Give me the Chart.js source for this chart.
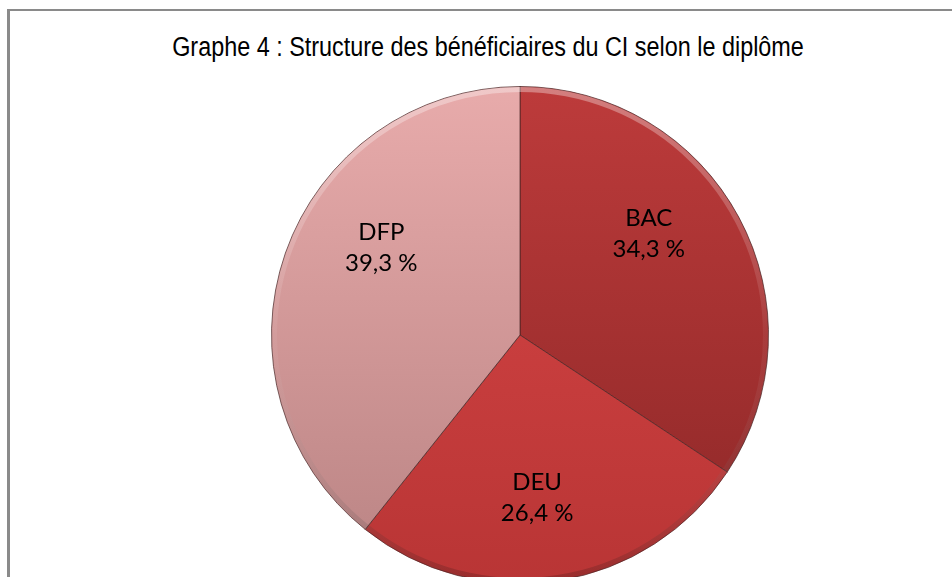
<!DOCTYPE html>
<html>
<head>
<meta charset="utf-8">
<script src="https://cdn.jsdelivr.net/npm/chart.js@4.4.1/dist/chart.umd.min.js"></script>
<style>
  html, body { margin: 0; padding: 0; background: #fff; overflow: hidden; }
  #stage { position: relative; width: 952px; height: 577px; overflow: hidden; }
  #frame {
    position: absolute; left: 7px; top: 9px; width: 960px; height: 600px;
    border-top: 2px solid #8a8a8a; border-left: 3px solid #8a8a8a;
  }
  #title {
    position: absolute; left: 0; width: 976px; top: 34px; text-align: center;
    font-family: "Liberation Sans Narrow", "Liberation Sans", Arial, sans-serif;
    font-size: 27px; line-height: 27px; color: #000;
    transform: scaleX(0.866); transform-origin: 488px 0;
    white-space: nowrap;
  }
  #wrap { position: absolute; left: 0; top: 0; width: 952px; height: 600px; }
</style>
</head>
<body>
<div id="stage">
  <div id="frame"></div>
  <div id="title">Graphe 4 : Structure des bénéficiaires du CI selon le diplôme</div>
  <div id="wrap"><canvas id="pie"></canvas></div>
</div>
<script>
const categories = ['BAC', 'DEU', 'DFP'];
const shares = [34.3, 26.4, 39.3];
const valueLabels = ['34,3 %', '26,4 %', '39,3 %'];

// couleurs : haut -> bas de chaque part
const sliceTop = ['#bd3b3b', '#d84747', '#e8abab'];
const sliceBottom = ['#8c2727', '#b93535', '#b98383'];

function sliceColor(ctx) {
    const chart = ctx.chart;
    const area = chart.chartArea;
    const i = ctx.dataIndex;
    if (!area) return sliceTop[i];
    const g = chart.ctx.createLinearGradient(0, area.top, 0, area.bottom);
    g.addColorStop(0, sliceTop[i]);
    g.addColorStop(1, sliceBottom[i]);
    return g;
}

// petit effet de biseau sur le bord
const bevel = {
    id: 'bevel',
    afterDatasetsDraw(chart) {
        const meta = chart.getDatasetMeta(0);
        const c = chart.ctx;
        meta.data.forEach(arc => {
            const r = arc.outerRadius;
            const g = c.createLinearGradient(0, arc.y - r, 0, arc.y + r);
            g.addColorStop(0, 'rgba(255,255,255,0.35)');
            g.addColorStop(0.5, 'rgba(255,255,255,0.05)');
            g.addColorStop(1, 'rgba(0,0,0,0.18)');
            c.save();
            c.beginPath();
            c.arc(arc.x, arc.y, r - 3, arc.startAngle, arc.endAngle);
            c.strokeStyle = g;
            c.lineWidth = 5;
            c.stroke();
            c.restore();
        });
    }
};

const sliceLabels = {
    id: 'sliceLabels',
    afterDraw(chart, args, opts) {
        const meta = chart.getDatasetMeta(0);
        const c = chart.ctx;
        c.save();
        c.font = opts.font;
        c.fillStyle = '#000';
        c.textAlign = 'center';
        c.textBaseline = 'middle';
        meta.data.forEach((arc, i) => {
            const mid = (arc.startAngle + arc.endAngle) / 2 + opts.angleShift[i] * Math.PI / 180;
            const d = arc.outerRadius * opts.distance;
            const x = arc.x + Math.cos(mid) * d;
            const y = arc.y + Math.sin(mid) * d;
            c.fillText(categories[i], x, y - opts.lineGap / 2);
            c.fillText(valueLabels[i], x, y + opts.lineGap / 2);
        });
        c.restore();
    }
};

new Chart(document.getElementById('pie'), {
    type: 'pie',
    data: {
        labels: categories,
        datasets: [{
            data: shares,
            backgroundColor: sliceColor,
            borderColor: 'rgba(70,35,35,0.7)',
            borderWidth: 1
        }]
    },
    options: {
        responsive: true,
        maintainAspectRatio: false,
        animation: false,
        events: [],
        layout: {
            padding: { left: 271, right: 183, top: 86, bottom: 16 }
        },
        plugins: {
            legend: { display: false },
            tooltip: { enabled: false },
            sliceLabels: {
                font: '24px Lato, "Open Sans", sans-serif',
                distance: 0.66,
                lineGap: 31,
                angleShift: [-10, 3, 13]
            }
        }
    },
    plugins: [bevel, sliceLabels]
});
</script>
</body>
</html>
